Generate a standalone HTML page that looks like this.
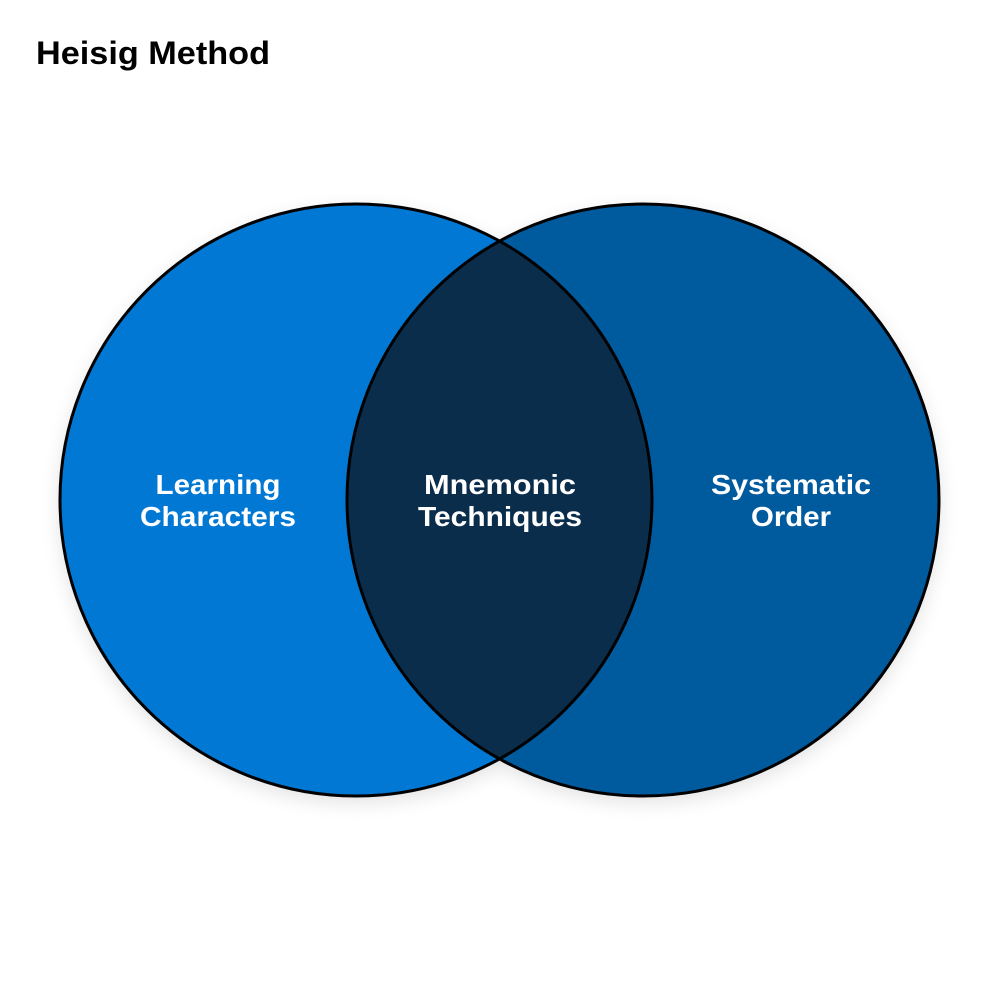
<!DOCTYPE html>
<html><head><meta charset="utf-8"><style>
html,body{margin:0;padding:0;background:#fff;width:1000px;height:1000px;overflow:hidden}
</style></head><body>
<svg width="1000" height="1000" viewBox="0 0 1000 1000" xmlns="http://www.w3.org/2000/svg">
<defs>
<filter id="sh" x="-20%" y="-20%" width="140%" height="140%"><feGaussianBlur stdDeviation="10"/></filter>
<clipPath id="cl"><circle cx="356" cy="500" r="296"/></clipPath>
</defs>
<rect width="1000" height="1000" fill="#fff"/>
<text x="36" y="64" font-family="Liberation Sans, sans-serif" font-weight="bold" font-size="32" fill="#000" textLength="234" lengthAdjust="spacingAndGlyphs">Heisig Method</text>
<g opacity="0.12" filter="url(#sh)">
<circle cx="356" cy="506" r="296" fill="#000"/>
<circle cx="643" cy="506" r="296" fill="#000"/>
</g>
<circle cx="356" cy="500" r="296" fill="#0078D4"/>
<circle cx="643" cy="500" r="296" fill="#005A9E"/>
<circle cx="643" cy="500" r="296" fill="#0B2D4C" clip-path="url(#cl)"/>
<circle cx="356" cy="500" r="296" fill="none" stroke="#000" stroke-width="3"/>
<circle cx="643" cy="500" r="296" fill="none" stroke="#000" stroke-width="3"/>
<g font-family="Liberation Sans, sans-serif" font-weight="bold" font-size="28" fill="#fff" text-anchor="middle" lengthAdjust="spacingAndGlyphs">
<text x="218" y="494" textLength="125" lengthAdjust="spacingAndGlyphs">Learning</text>
<text x="218" y="526" textLength="156" lengthAdjust="spacingAndGlyphs">Characters</text>
<text x="500" y="494" textLength="152" lengthAdjust="spacingAndGlyphs">Mnemonic</text>
<text x="500" y="526" textLength="164" lengthAdjust="spacingAndGlyphs">Techniques</text>
<text x="791" y="494" textLength="160" lengthAdjust="spacingAndGlyphs">Systematic</text>
<text x="791" y="526" textLength="80" lengthAdjust="spacingAndGlyphs">Order</text>
</g>
</svg>
</body></html>
